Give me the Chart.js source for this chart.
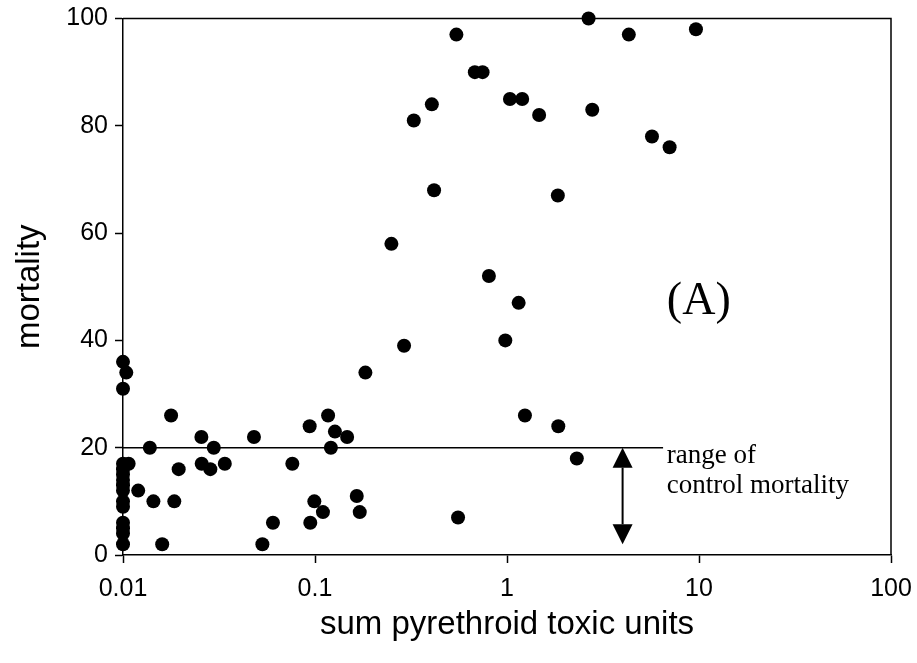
<!DOCTYPE html>
<html>
<head>
<meta charset="utf-8">
<script src="https://cdn.jsdelivr.net/npm/chart.js@4.4.0/dist/chart.umd.min.js"></script>
<style>
  html, body { margin: 0; padding: 0; background: #fff; }
  #wrap { width: 917px; height: 663px; }
</style>
</head>
<body>
<div id="wrap"><canvas id="chart"></canvas></div>
<script>
// Mortality vs sum of pyrethroid toxic units (log x axis)
const toxicUnits = [
    0.01, 0.01, 0.01, 0.01, 0.01, 0.01, 0.01, 0.01, 0.01, 0.01, 0.01, 0.01, 0.01, 0.01,
    0.0104, 0.0107, 0.012, 0.0138, 0.0144, 0.016, 0.0178, 0.0185, 0.0195,
    0.0256, 0.0257, 0.0285, 0.0297, 0.0339, 0.0481, 0.0532, 0.0604, 0.0762,
    0.0938, 0.0945, 0.0992, 0.110, 0.117, 0.121, 0.127, 0.147, 0.165, 0.171, 0.183,
    0.250, 0.291, 0.327, 0.406, 0.417, 0.545, 0.556, 0.680, 0.746, 0.805, 0.980,
    1.036, 1.15, 1.20, 1.24, 1.47, 1.84, 1.85, 2.31, 2.66, 2.78, 4.31, 5.69, 7.03, 9.64
];
const mortality = [
    36, 31, 17, 16, 15, 14, 13, 12, 10, 9, 6, 5, 4, 2,
    34, 17, 12, 20, 10, 2, 26, 10, 16,
    22, 17, 16, 20, 17, 22, 2, 6, 17,
    24, 6, 10, 8, 26, 20, 23, 22, 11, 8, 34,
    58, 39, 81, 84, 68, 97, 7, 90, 90, 52, 40,
    85, 47, 85, 26, 82, 67, 24, 18, 100, 83, 97, 78, 76, 98
];

const xTicks = [0.01, 0.1, 1, 10, 100];
const yTicks = [0, 20, 40, 60, 80, 100];

// range of control mortality
const controlX = [0.01, 6.5];
const controlLevel = 20;
const arrowX = 4;
const arrowRange = [20, 2];

const points = toxicUnits.map((v, i) => ({ x: v, y: mortality[i] }));

const extras = {
    id: 'extras',
    afterDatasetsDraw(chart) {
        const { ctx, chartArea: a, scales: { x, y } } = chart;
        ctx.save();
        ctx.strokeStyle = '#000';
        ctx.fillStyle = '#000';

        // top and right frame
        ctx.lineWidth = 1.5;
        ctx.beginPath();
        ctx.moveTo(a.left, a.top);
        ctx.lineTo(a.right, a.top);
        ctx.lineTo(a.right, a.bottom);
        ctx.stroke();

        // double arrow
        const ax = x.getPixelForValue(arrowX);
        const y1 = y.getPixelForValue(arrowRange[0]);
        const y2 = y.getPixelForValue(arrowRange[1]);
        const head = 20, hw = 10;
        ctx.lineWidth = 2;
        ctx.beginPath();
        ctx.moveTo(ax, y1 + head);
        ctx.lineTo(ax, y2 - head);
        ctx.stroke();
        ctx.beginPath();
        ctx.moveTo(ax, y1);
        ctx.lineTo(ax - hw, y1 + head);
        ctx.lineTo(ax + hw, y1 + head);
        ctx.closePath();
        ctx.moveTo(ax, y2);
        ctx.lineTo(ax - hw, y2 - head);
        ctx.lineTo(ax + hw, y2 - head);
        ctx.closePath();
        ctx.fill();

        // annotations
        const tx = x.getPixelForValue(6.8);
        ctx.textAlign = 'left';
        ctx.textBaseline = 'alphabetic';
        ctx.font = '27px "Liberation Serif"';
        ctx.fillText('range of', tx, y.getPixelForValue(17.2));
        ctx.fillText('control mortality', tx, y.getPixelForValue(11.5));
        ctx.font = '46px "Liberation Serif"';
        ctx.fillText('(A)', tx, y.getPixelForValue(45));
        ctx.restore();
    }
};

new Chart(document.getElementById('chart'), {
    type: 'scatter',
    data: {
        datasets: [
            {
                type: 'line',
                data: controlX.map(v => ({ x: v, y: controlLevel })),
                borderColor: '#000',
                borderWidth: 1.5,
                pointRadius: 0
            },
            {
                data: points,
                backgroundColor: '#000',
                borderWidth: 0,
                pointRadius: 7,
                clip: false
            }
        ]
    },
    options: {
        responsive: true,
        maintainAspectRatio: false,
        animation: false,
        events: [],
        layout: { padding: { top: 18.5, right: 26, left: 0, bottom: 0 } },
        plugins: {
            legend: { display: false },
            tooltip: { enabled: false }
        },
        scales: {
            x: {
                type: 'logarithmic',
                min: 0.01,
                max: 100,
                afterBuildTicks: s => { s.ticks = xTicks.map(v => ({ value: v })); },
                afterFit: s => { s.height = 108; s.paddingLeft = 0; s.paddingRight = 0; },
                ticks: {
                    color: '#000',
                    padding: 11,
                    maxRotation: 0,
                    font: { family: '"Liberation Sans", Arial', size: 25 },
                    callback: v => String(v)
                },
                grid: { drawOnChartArea: false, tickLength: 8, tickColor: '#000', tickWidth: 1.5 },
                border: { color: '#000', width: 1.5 },
                title: {
                    display: true,
                    text: 'sum pyrethroid toxic units',
                    color: '#000',
                    font: { family: '"Liberation Sans", Arial', size: 33 },
                    padding: { top: 0, bottom: 18 }
                }
            },
            y: {
                min: 0,
                max: 100,
                afterBuildTicks: s => { s.ticks = yTicks.map(v => ({ value: v })); },
                afterFit: s => { s.width = 123; s.paddingTop = 0; s.paddingBottom = 0; },
                ticks: {
                    color: '#000',
                    padding: 7,
                    font: { family: '"Liberation Sans", Arial', size: 25 }
                },
                grid: { drawOnChartArea: false, tickLength: 8, tickColor: '#000', tickWidth: 1.5 },
                border: { color: '#000', width: 1.5 },
                title: {
                    display: true,
                    text: 'mortality',
                    color: '#000',
                    font: { family: '"Liberation Sans", Arial', size: 33 },
                    padding: { top: 10, bottom: 0 }
                }
            }
        }
    },
    plugins: [extras]
});
</script>
</body>
</html>
